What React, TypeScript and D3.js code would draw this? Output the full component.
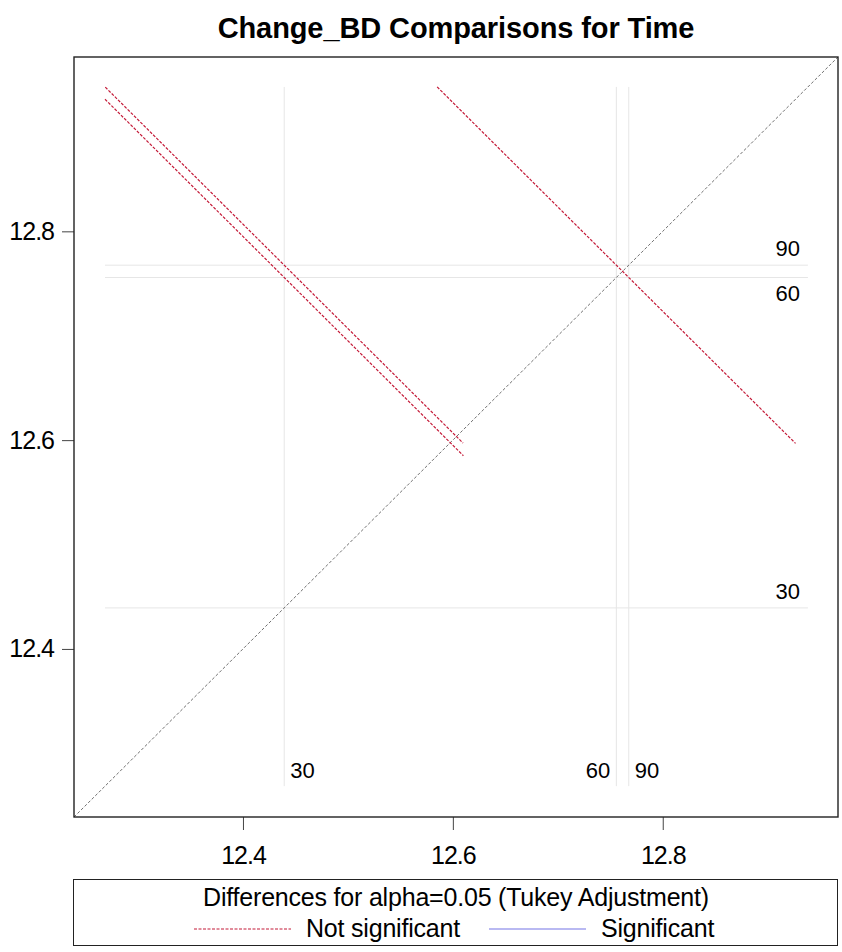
import React, { useEffect, useRef } from "react";
import * as d3 from "d3";

// LS-means of Change_BD by Time
const levels = ["30", "60", "90"];
const means = [12.4393, 12.7558, 12.7676];

// pairwise differences (x level - y level), Tukey adjusted confidence limits
const pairX = ["30", "30", "60"];
const pairY = ["60", "90", "90"];
const lowerCL = [-0.658, -0.669, -0.353];
const upperCL = [0.025, 0.013, 0.330];

const axisTicks = [12.4, 12.6, 12.8];
const axisDomain = [12.239, 12.967];

const titleText = "Change_BD Comparisons for Time";
const legendTitle = "Differences for alpha=0.05 (Tukey Adjustment)";
const legendLabels = ["Not significant", "Significant"];

const RED = "#c41a38";
const BLUE = "#7474e6";
const FONT = "'Liberation Sans', Arial, sans-serif";

const App = () => {
  const chart = useRef<SVGSVGElement>(null);

  useEffect(() => {
    const width = 842;
    const height = 952;
    const margin = { top: 57, right: 4, bottom: 135, left: 74 };

    const svg = d3.select(chart.current);
    svg.selectAll("*").remove();
    svg.attr("width", width).attr("height", height);

    const x = d3.scaleLinear()
      .domain(axisDomain)
      .range([margin.left, width - margin.right]);
    const y = d3.scaleLinear()
      .domain(axisDomain)
      .range([height - margin.bottom, margin.top]);

    const meanOf = (lv: string) => means[levels.indexOf(lv)];

    const segs = pairX.map((lx, i) => {
      const h = (upperCL[i] - lowerCL[i]) / 4;
      const mx = meanOf(lx);
      const my = meanOf(pairY[i]);
      const sig = lowerCL[i] > 0 || upperCL[i] < 0;
      return { x1: mx - h, y1: my + h, x2: mx + h, y2: my - h, sig };
    });

    const allVals = segs.flatMap(s => [s.x1, s.x2, s.y1, s.y2]);
    const lo = d3.min(allVals) as number;
    const hi = d3.max(allVals) as number;

    // title
    svg.append("text")
      .attr("x", (x.range()[0] + x.range()[1]) / 2)
      .attr("y", 38)
      .attr("text-anchor", "middle")
      .attr("font-family", FONT)
      .attr("font-weight", "bold")
      .attr("font-size", 29)
      .attr("letter-spacing", -0.1)
      .text(titleText);

    // reference lines at each mean
    const refs = svg.append("g")
      .attr("stroke", "#e6e6e6")
      .attr("stroke-width", 1);
    refs.selectAll(".h")
      .data(means)
      .join("line")
        .attr("x1", x(lo))
        .attr("x2", x(hi))
        .attr("y1", d => y(d))
        .attr("y2", d => y(d));
    refs.selectAll(".v")
      .data(means)
      .join("line")
        .attr("x1", d => x(d))
        .attr("x2", d => x(d))
        .attr("y1", y(hi))
        .attr("y2", y(lo));

    // labels: lower member of a close pair goes to the opposite side
    const flip = means.map((m, i) => i + 1 < means.length && means[i + 1] - m < 0.03);

    const labels = svg.append("g")
      .attr("font-family", FONT)
      .attr("font-size", 22)
      .attr("fill", "#000");
    labels.selectAll(".hl")
      .data(levels)
      .join("text")
        .attr("x", x(hi) - 8)
        .attr("y", (d, i) => flip[i] ? y(means[i]) + 24 : y(means[i]) - 9)
        .attr("text-anchor", "end")
        .text(d => d);
    labels.selectAll(".vl")
      .data(levels)
      .join("text")
        .attr("x", (d, i) => flip[i] ? x(means[i]) - 6 : x(means[i]) + 6)
        .attr("y", y(lo) - 8)
        .attr("text-anchor", (d, i) => flip[i] ? "end" : "start")
        .text(d => d);

    // diagonal
    svg.append("line")
      .attr("x1", x(axisDomain[0]))
      .attr("y1", y(axisDomain[0]))
      .attr("x2", x(axisDomain[1]))
      .attr("y2", y(axisDomain[1]))
      .attr("stroke", "#707070")
      .attr("stroke-width", 1)
      .attr("stroke-dasharray", "3 2");

    // difference segments
    svg.append("g")
      .selectAll("line")
      .data(segs)
      .join("line")
        .attr("x1", d => x(d.x1))
        .attr("y1", d => y(d.y1))
        .attr("x2", d => x(d.x2))
        .attr("y2", d => y(d.y2))
        .attr("stroke", d => d.sig ? BLUE : RED)
        .attr("stroke-width", 1.2)
        .attr("stroke-dasharray", d => d.sig ? null : "3 1.5");

    // axes
    const xAxis = svg.append("g")
      .attr("transform", "translate(0," + (height - margin.bottom) + ")")
      .call(d3.axisBottom(x).tickValues(axisTicks).tickFormat(d3.format(".1f")).tickSize(13).tickSizeOuter(0));
    const yAxis = svg.append("g")
      .attr("transform", "translate(" + margin.left + ",0)")
      .call(d3.axisLeft(y).tickValues(axisTicks).tickFormat(d3.format(".1f")).tickSize(12).tickSizeOuter(0));
    [xAxis, yAxis].forEach(a => {
      a.select(".domain").remove();
      a.selectAll(".tick line").attr("stroke", "#444");
      a.selectAll(".tick text")
        .attr("font-family", FONT)
        .attr("font-size", 25)
        .attr("letter-spacing", -1)
        .attr("fill", "#000");
    });
    xAxis.selectAll(".tick text").attr("dy", "1.25em");
    yAxis.selectAll(".tick text").attr("dx", "-0.2em");

    // frame
    svg.append("rect")
      .attr("x", margin.left)
      .attr("y", margin.top)
      .attr("width", width - margin.left - margin.right)
      .attr("height", height - margin.top - margin.bottom)
      .attr("fill", "none")
      .attr("stroke", "#222")
      .attr("stroke-width", 1.4);

    // legend
    const lg = svg.append("g").attr("font-family", FONT).attr("font-size", 25).attr("letter-spacing", -0.2);
    lg.append("rect")
      .attr("x", 73.5)
      .attr("y", 879.5)
      .attr("width", 764)
      .attr("height", 66)
      .attr("fill", "none")
      .attr("stroke", "#222")
      .attr("stroke-width", 1);
    lg.append("text")
      .attr("x", 456)
      .attr("y", 906)
      .attr("text-anchor", "middle")
      .text(legendTitle);
    const items = [
      { x0: 194, color: RED, dash: "3 1.5", label: legendLabels[0] },
      { x0: 489, color: BLUE, dash: null, label: legendLabels[1] }
    ];
    items.forEach(it => {
      lg.append("line")
        .attr("x1", it.x0)
        .attr("x2", it.x0 + 97)
        .attr("y1", 929)
        .attr("y2", 929)
        .attr("stroke", it.color)
        .attr("stroke-width", 1.2)
        .attr("stroke-dasharray", it.dash);
      lg.append("text")
        .attr("x", it.x0 + 112)
        .attr("y", 937)
        .text(it.label);
    });
  }, []);

  return (
    <div style={{ position: "absolute", left: 0, top: 0 }}>
      <svg ref={chart} style={{ display: "block", background: "#fff" }} />
    </div>
  );
};

export default App;
